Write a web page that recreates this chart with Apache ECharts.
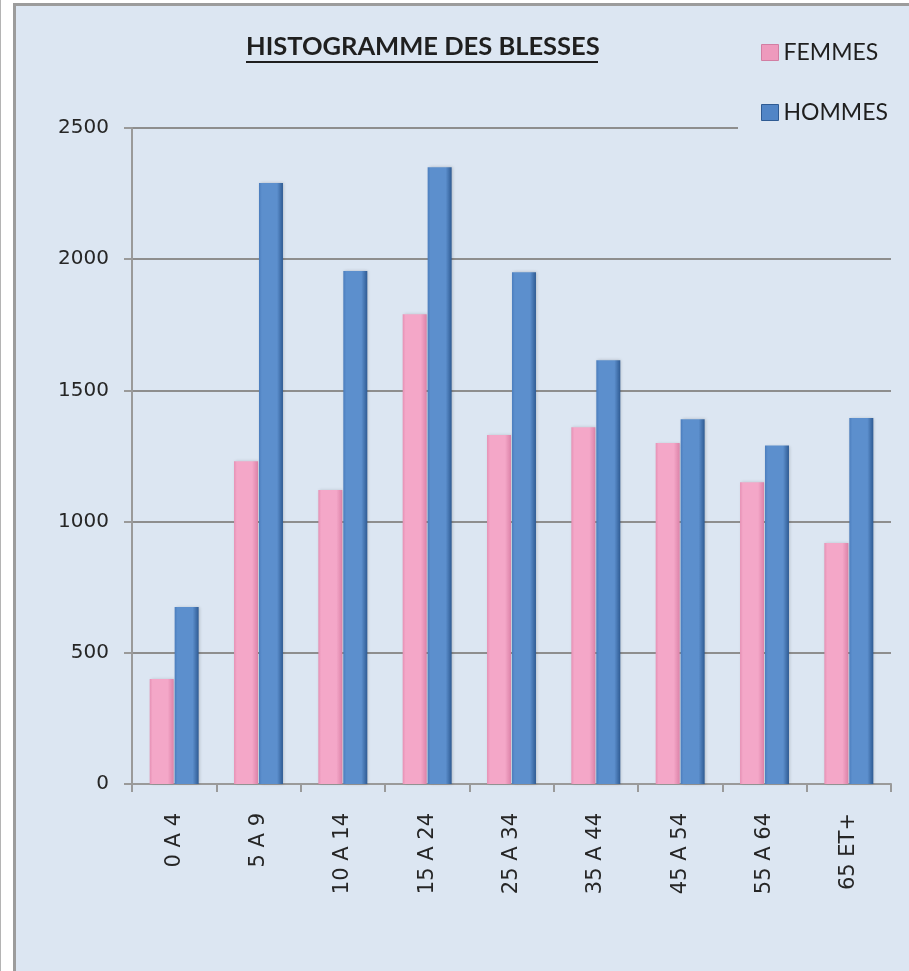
<!DOCTYPE html>
<html>
<head>
<meta charset="utf-8">
<title>Histogramme des blessés</title>
<script src="https://cdn.jsdelivr.net/npm/echarts@6/dist/echarts.min.js"></script>
<style>
  html, body { margin: 0; padding: 0; background: #fff; }
  body { width: 909px; height: 971px; position: relative; overflow: hidden; border-left: 1px solid #b4b4b4; box-sizing: border-box; }
  #panel { position: absolute; left: 12px; top: 3px; right: 0; bottom: 0;
           background: #dce6f2; border-left: 3px solid #9c9c9c; border-top: 3px solid #9c9c9c; }
  #chart { position: absolute; left: 0; top: 0; width: 909px; height: 971px; }
</style>
</head>
<body>
<div id="panel"></div>
<div id="chart"></div>
<script>
// age groups
const categories = ['0 A 4', '5 A 9', '10 A 14', '15 A 24', '25 A 34', '35 A 44', '45 A 54', '55 A 64', '65 ET+']
const femmes = [400, 1230, 1120, 1790, 1330, 1360, 1300, 1150, 918]
const hommes = [675, 2290, 1955, 2350, 1950, 1615, 1390, 1290, 1395]
const yTicks = [0, 500, 1000, 1500, 2000, 2500]

const chart = echarts.init(document.getElementById('chart'))

const barGrad = (edgeL, mid, edgeR) => new echarts.graphic.LinearGradient(0, 0, 1, 0, [
  { offset: 0, color: edgeL },
  { offset: 0.12, color: mid },
  { offset: 0.75, color: mid },
  { offset: 1, color: edgeR },
])

const pink = barGrad('#e690b4', '#f4a7c8', '#dc82a8')
const blue = barGrad('#4b7dbd', '#5c8fcd', '#2f5b93')

const option = {
  animation: false,
  title: {
    text: 'HISTOGRAMME DES BLESSES',
    left: 245,
    top: 34,
    padding: 0,
    textStyle: { fontFamily: 'Lato', fontWeight: 'bold', fontSize: 25.5, color: '#1f1f1f' },
  },
  legend: {
    orient: 'vertical',
    left: 737,
    top: 31,
    padding: [10, 30, 12, 23],
    backgroundColor: '#dce6f2',
    icon: 'rect',
    itemWidth: 17,
    itemHeight: 16,
    itemGap: 37,
    textStyle: { fontFamily: 'Lato', fontSize: 23, color: '#1f1f1f' },
    data: [
      { name: 'FEMMES', itemStyle: { color: '#ee9abd', borderColor: '#d27ea3', borderWidth: 1 } },
      { name: 'HOMMES', itemStyle: { color: '#5185c6', borderColor: '#2f5b93', borderWidth: 1 } },
    ],
  },
  grid: { left: 131, right: 19, top: 128, bottom: 187 },
  xAxis: {
    type: 'category',
    data: categories,
    axisLine: { lineStyle: { color: '#9a9a9a', width: 2 } },
    axisTick: { show: true, interval: 0, length: 8, lineStyle: { color: '#9a9a9a', width: 2 } },
    axisLabel: {
      interval: 0, rotate: 90, margin: 29,
      fontFamily: 'DejaVu Sans', fontSize: 21, color: '#262626',
    },
  },
  yAxis: {
    type: 'value',
    min: yTicks[0],
    max: yTicks[yTicks.length - 1],
    interval: yTicks[1] - yTicks[0],
    axisLine: { show: true, lineStyle: { color: '#9a9a9a', width: 2 } },
    axisTick: { show: true, length: 8, lineStyle: { color: '#9a9a9a', width: 2 } },
    axisLabel: {
      margin: 23, fontFamily: 'DejaVu Sans', fontSize: 20, color: '#262626',
      formatter: (v) => String(v),
    },
    splitLine: { show: true, lineStyle: { color: '#8e8e8e', width: 2 } },
  },
  series: [
    {
      name: 'FEMMES',
      type: 'bar',
      data: femmes,
      barWidth: 24,
      barGap: '4%',
      itemStyle: { color: pink, shadowColor: 'rgba(0,0,0,0.15)', shadowBlur: 3, shadowOffsetX: 1 },
    },
    {
      name: 'HOMMES',
      type: 'bar',
      data: hommes,
      barWidth: 24,
      itemStyle: { color: blue, shadowColor: 'rgba(0,0,0,0.2)', shadowBlur: 3, shadowOffsetX: 1 },
    },
  ],
  graphic: [
    { type: 'line', shape: { x1: 245, y1: 62, x2: 597, y2: 62 }, style: { stroke: '#1f1f1f', lineWidth: 2 } },
  ],
}

chart.setOption(option)
</script>
</body>
</html>
